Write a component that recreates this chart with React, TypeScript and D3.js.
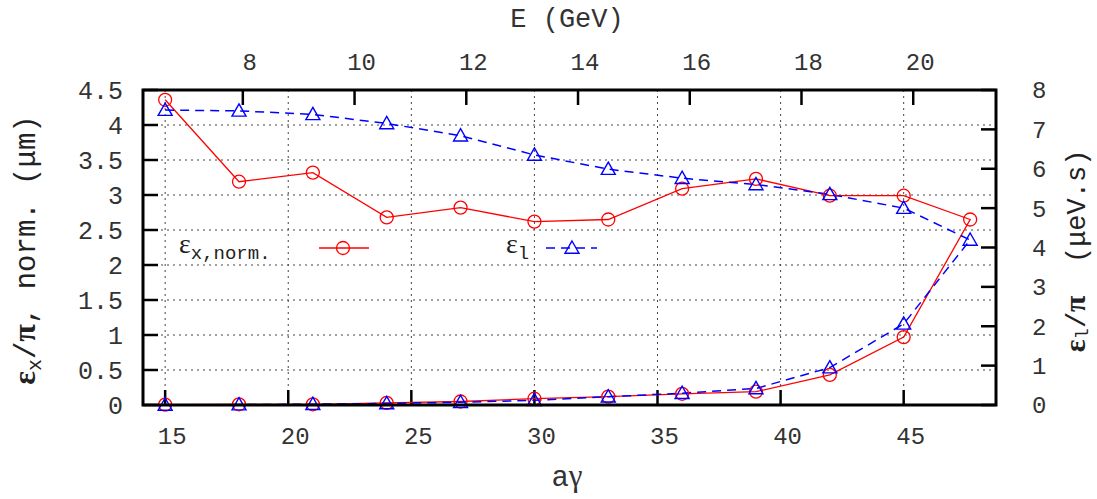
import React from "react";
import * as d3 from "d3";

const agamma = [15, 18, 21, 24, 27, 30, 33, 36, 39, 42, 45, 47.7, 45, 42, 39, 36, 33, 30, 27, 24, 21, 18, 15];
const emitX = [4.36, 3.19, 3.32, 2.68, 2.82, 2.62, 2.65, 3.09, 3.23, 2.99, 2.99, 2.65, 0.97, 0.43, 0.19, 0.16, 0.12, 0.09, 0.05, 0.03, 0.01, 0.01, 0.005];
const emitL = [7.49, 7.47, 7.38, 7.15, 6.84, 6.35, 5.99, 5.76, 5.6, 5.35, 5.0, 4.19, 2.06, 0.95, 0.42, 0.3, 0.21, 0.12, 0.07, 0.04, 0.02, 0.01, 0.0];

const bottomTicks = [15, 20, 25, 30, 35, 40, 45];
const topTicks = [8, 10, 12, 14, 16, 18, 20];
const leftTicks = [0, 0.5, 1, 1.5, 2, 2.5, 3, 3.5, 4, 4.5];
const rightTicks = [0, 1, 2, 3, 4, 5, 6, 7, 8];
const GEV_PER_AGAMMA = 0.44065;

const W = 1097, H = 499;
const L = 143, R = 996, T = 90, B = 405;

const MONO = "'Liberation Mono', 'DejaVu Sans Mono', monospace";
const GREEK = "'Liberation Serif', 'DejaVu Serif', serif";

export default function App() {
  const x = d3.scaleLinear().domain([14.1, 48.75]).range([L, R]);
  const xTop = d3.scaleLinear().domain([14.1 * GEV_PER_AGAMMA, 48.75 * GEV_PER_AGAMMA]).range([L, R]);
  const yL = d3.scaleLinear().domain([0, 4.5]).range([B, T]);
  const yR = d3.scaleLinear().domain([0, 8]).range([B, T]);

  const redLine = d3.line<number>().x((_, i) => x(agamma[i])).y((d) => yL(d));
  const blueLine = d3.line<number>().x((_, i) => x(agamma[i])).y((d) => yR(d));

  const tri = (cx: number, cy: number, s = 7) =>
    `M${cx},${cy - s} L${cx + s},${cy + s * 0.75} L${cx - s},${cy + s * 0.75} Z`;

  const tickLen = 15;
  const labelShift = 7;

  return (
    <svg width={W} height={H} style={{ position: "absolute", left: 0, top: 0, background: "#fff" }}>
      <rect x={0} y={0} width={W} height={H} fill="#fff" />
      {/* grid */}
      <g stroke="#444" strokeWidth={1} strokeDasharray="2,4">
        {bottomTicks.map((t) => (
          <line key={"gx" + t} x1={x(t)} x2={x(t)} y1={T} y2={B} />
        ))}
        {leftTicks.filter((t) => t > 0 && t < 4.5).map((t) => (
          <line key={"gy" + t} x1={L} x2={R} y1={yL(t)} y2={yL(t)} />
        ))}
      </g>
      {/* ticks */}
      <g stroke="#000" strokeWidth={2.5}>
        {bottomTicks.map((t) => (
          <line key={"bt" + t} x1={x(t)} x2={x(t)} y1={B} y2={B - tickLen} />
        ))}
        {topTicks.map((t) => (
          <line key={"tt" + t} x1={xTop(t)} x2={xTop(t)} y1={T} y2={T + tickLen} />
        ))}
        {leftTicks.map((t) => (
          <line key={"lt" + t} x1={L} x2={L + tickLen} y1={yL(t)} y2={yL(t)} />
        ))}
        {rightTicks.map((t) => (
          <line key={"rt" + t} x1={R} x2={R - tickLen} y1={yR(t)} y2={yR(t)} />
        ))}
      </g>
      {/* series */}
      <path d={redLine(emitX) || ""} fill="none" stroke="#ff0000" strokeWidth={1.3} />
      <path d={blueLine(emitL) || ""} fill="none" stroke="#0000ff" strokeWidth={1.5} strokeDasharray="9,6" />
      {emitX.map((v, i) => (
        <circle key={"c" + i} cx={x(agamma[i])} cy={yL(v)} r={6.5} fill="none" stroke="#ff0000" strokeWidth={1.3} />
      ))}
      {emitL.map((v, i) => (
        <path key={"t" + i} d={tri(x(agamma[i]), yR(v))} fill="none" stroke="#0000ff" strokeWidth={1.4} />
      ))}
      {/* frame */}
      <rect x={L} y={T} width={R - L} height={B - T} fill="none" stroke="#000" strokeWidth={3} />
      {/* tick labels */}
      <g fontFamily={MONO} fontSize={25} fill="#333" textAnchor="end">
        {leftTicks.map((t) => (
          <text key={"ll" + t} x={123} y={yL(t)} dy="0.35em">{String(t)}</text>
        ))}
      </g>
      <g fontFamily={MONO} fontSize={24} fill="#333" textAnchor="start">
        {rightTicks.map((t) => (
          <text key={"rl" + t} x={1032} y={yR(t)} dy="0.35em">{String(t)}</text>
        ))}
      </g>
      <g fontFamily={MONO} fontSize={24} fill="#333" textAnchor="middle">
        {bottomTicks.map((t) => (
          <text key={"bl" + t} x={x(t) + labelShift} y={444}>{String(t)}</text>
        ))}
        {topTicks.map((t) => (
          <text key={"tl" + t} x={xTop(t) + labelShift} y={70}>{String(t)}</text>
        ))}
      </g>
      {/* axis titles */}
      <text x={567} y={27} textAnchor="middle" fontFamily={MONO} fontSize={27} fill="#333">E (GeV)</text>
      <text x={567} y={486} textAnchor="middle" fontFamily={MONO} fontSize={29} fill="#333">
        <tspan>a</tspan>
        <tspan fontFamily={GREEK} fontSize={31}>γ</tspan>
      </text>
      <text transform="translate(35,250) rotate(-90)" textAnchor="middle" fontFamily={MONO} fontSize={29} fill="#222">
        <tspan fontFamily={GREEK} fontWeight="bold" fontSize={32}>ε</tspan>
        <tspan fontSize={20} dy={6}>x</tspan>
        <tspan dy={-6}>/</tspan>
        <tspan fontFamily={GREEK} fontWeight="bold" fontSize={32}>π</tspan>
        <tspan>, norm. (μm)</tspan>
      </text>
      <text transform="translate(1085,251) rotate(-90)" textAnchor="middle" fontFamily={MONO} fontSize={27} fill="#222" xmlSpace="preserve">
        <tspan fontFamily={GREEK} fontWeight="bold" fontSize={30}>ε</tspan>
        <tspan fontSize={19} dy={3}>l</tspan>
        <tspan dy={-3}>/</tspan>
        <tspan fontFamily={GREEK} fontWeight="bold" fontSize={30}>π</tspan>
        <tspan>{"  (μeV.s)"}</tspan>
      </text>
      {/* legend */}
      <text x={179} y={253} fontFamily={MONO} fontSize={19} fill="#222">
        <tspan fontFamily={GREEK} fontSize={28}>ε</tspan>
        <tspan dy={6}>x,norm.</tspan>
      </text>
      <line x1={319} x2={369} y1={248} y2={248} stroke="#ff0000" strokeWidth={1.3} />
      <circle cx={343} cy={248} r={6.5} fill="none" stroke="#ff0000" strokeWidth={1.3} />
      <text x={506} y={253} fontFamily={MONO} fontSize={19} fill="#222">
        <tspan fontFamily={GREEK} fontSize={28}>ε</tspan>
        <tspan dy={6}>l</tspan>
      </text>
      <line x1={546} x2={597} y1={248} y2={248} stroke="#0000ff" strokeWidth={1.5} strokeDasharray="9,6" />
      <path d={tri(572, 248)} fill="none" stroke="#0000ff" strokeWidth={1.4} />
    </svg>
  );
}
